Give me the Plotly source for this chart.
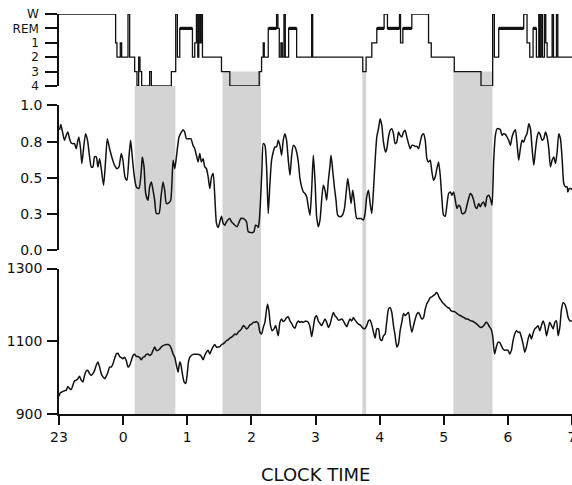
import plotly.graph_objects as go

# ---------------- data ----------------
# time axis: hours elapsed since 23:00
x_tickvals = [0, 1, 2, 3, 4, 5, 6, 7, 8]
x_ticktext = ["23", "0", "1", "2", "3", "4", "5", "6", "7"]

stage_order = ["4", "3", "2", "1", "REM", "W"]

hyp_time = [0.000, 0.883, 0.904, 0.956, 0.977, 1.076, 1.102, 1.180, 1.216, 1.242,
            1.263, 1.289, 1.414, 1.440, 1.752, 1.820, 1.846, 1.883, 2.081, 2.117,
            2.143, 2.164, 2.180, 2.201, 2.216, 2.237, 2.534, 2.664, 3.122, 3.159,
            3.185, 3.201, 3.263, 3.393, 3.414, 3.435, 3.461, 3.482, 3.508, 3.529,
            3.581, 3.706, 3.940, 3.956, 4.737, 4.789, 4.878, 4.956, 5.070, 5.122,
            5.310, 5.326, 5.362, 5.502, 5.763, 5.805, 6.164, 6.581, 6.763, 6.789,
            6.857, 7.247, 7.299, 7.341, 7.393, 7.445, 7.482, 7.497, 7.518, 7.539,
            7.570, 7.591, 7.612, 7.690, 7.711, 7.758, 7.779, 8.000]
hyp_stage = ["W", "1", "2", "1", "2", "W", "2", "3", "4", "2",
             "3", "4", "3", "4", "3", "W", "2", "REM", "2", "1",
             "W", "2", "W", "1", "W", "2", "3", "4", "3", "2",
             "1", "2", "REM", "W", "REM", "2", "1", "2", "W", "2",
             "REM", "2", "W", "2", "3", "2", "1", "REM", "W", "REM",
             "W", "1", "REM", "W", "1", "2", "3", "4", "W", "2",
             "REM", "W", "1", "2", "REM", "2", "W", "2", "W", "2",
             "W", "1", "2", "W", "2", "W", "2", "2"]

rem_bold_start = [1.883, 3.263, 3.581, 4.956, 5.122, 5.362, 6.857, 7.393]
rem_bold_end = [2.081, 3.393, 3.706, 5.070, 5.310, 5.502, 7.247, 7.445]

shade_start = [1.18, 2.55, 4.73, 6.15]
shade_end = [1.815, 3.15, 4.79, 6.76]
shade_top_stage = ["4", "3", "3", "3"]

mid_time = [0.008, 0.029, 0.060, 0.086, 0.112, 0.138, 0.164, 0.190, 0.216, 0.242,
            0.268, 0.294, 0.310, 0.336, 0.357, 0.383, 0.414, 0.445, 0.477, 0.503,
            0.529, 0.555, 0.581, 0.607, 0.633, 0.659, 0.695, 0.727, 0.753, 0.789,
            0.831, 0.867, 0.904, 0.935, 0.971, 0.997, 1.029, 1.060, 1.091, 1.117,
            1.143, 1.169, 1.206, 1.247, 1.284, 1.299, 1.326, 1.352, 1.388, 1.414,
            1.440, 1.466, 1.492, 1.518, 1.560, 1.591, 1.622, 1.648, 1.674, 1.711,
            1.742, 1.779, 1.805, 1.831, 1.872, 1.909, 1.935, 1.961, 1.987, 2.023,
            2.055, 2.091, 2.117, 2.143, 2.169, 2.195, 2.221, 2.247, 2.273, 2.299,
            2.326, 2.352, 2.378, 2.404, 2.430, 2.456, 2.482, 2.508, 2.534, 2.560,
            2.586, 2.612, 2.664, 2.690, 2.716, 2.742, 2.779, 2.810, 2.836, 2.872,
            2.898, 2.924, 2.951, 2.977, 3.013, 3.039, 3.065, 3.091, 3.107, 3.122,
            3.138, 3.164, 3.185, 3.211, 3.237, 3.263, 3.289, 3.315, 3.341, 3.367,
            3.393, 3.419,
            3.445, 3.471, 3.497, 3.523, 3.549, 3.576, 3.602, 3.628, 3.654, 3.680,
            3.706, 3.732, 3.758, 3.784, 3.810, 3.836, 3.862, 3.888, 3.914, 3.940,
            3.966, 3.992, 4.018, 4.044, 4.070, 4.096, 4.122, 4.148, 4.174, 4.201,
            4.227, 4.242, 4.268, 4.294, 4.320, 4.346, 4.383, 4.419, 4.451, 4.477,
            4.503, 4.529, 4.555, 4.581, 4.607, 4.643, 4.680, 4.711, 4.747, 4.773,
            4.799, 4.826, 4.852, 4.878, 4.904, 4.930, 4.956, 4.982, 5.008, 5.034,
            5.060, 5.091, 5.112, 5.138, 5.164, 5.190, 5.216, 5.242, 5.268, 5.294,
            5.320, 5.346, 5.372, 5.398, 5.424, 5.451, 5.477, 5.503, 5.529, 5.555,
            5.581, 5.607, 5.633, 5.659, 5.685, 5.711, 5.737, 5.763, 5.789, 5.815,
            5.841, 5.867, 5.893, 5.919, 5.945, 5.971, 5.997, 6.023, 6.049, 6.076,
            6.102, 6.128, 6.154, 6.180, 6.206, 6.232, 6.258, 6.284, 6.310, 6.336,
            6.362, 6.388, 6.414, 6.440, 6.466, 6.492, 6.518, 6.544, 6.570, 6.596,
            6.622, 6.648, 6.674, 6.701, 6.727, 6.753, 6.779, 6.805, 6.831, 6.857,
            6.883, 6.909, 6.935, 6.961, 6.987, 7.013, 7.039, 7.065, 7.091, 7.117,
            7.143, 7.169, 7.195, 7.221, 7.247, 7.273, 7.299, 7.326, 7.352, 7.378,
            7.404, 7.430, 7.456, 7.482, 7.508, 7.534, 7.560, 7.586, 7.612, 7.638,
            7.664, 7.690, 7.716, 7.742, 7.768, 7.794, 7.820, 7.846, 7.872, 7.898,
            7.924, 7.935, 7.956, 7.977, 8.003]
mid_value = [0.832, 0.869, 0.805, 0.759, 0.793, 0.816, 0.770, 0.740, 0.736, 0.736,
             0.701, 0.759, 0.782, 0.701, 0.598, 0.701, 0.805, 0.759, 0.644, 0.575,
             0.575, 0.644, 0.644, 0.575, 0.632, 0.563, 0.448, 0.621, 0.770, 0.701,
             0.632, 0.586, 0.563, 0.575, 0.667, 0.621, 0.506, 0.483, 0.644, 0.759,
             0.644, 0.529, 0.437, 0.425, 0.552, 0.644, 0.575, 0.391, 0.345, 0.437,
             0.471, 0.414, 0.345, 0.253, 0.253, 0.368, 0.471, 0.414, 0.322, 0.326,
             0.345, 0.621, 0.563, 0.644, 0.782, 0.816, 0.832, 0.816, 0.770, 0.770,
             0.770, 0.724, 0.701, 0.655, 0.609, 0.667, 0.609, 0.632, 0.575, 0.563,
             0.506, 0.425, 0.506, 0.529, 0.368, 0.184, 0.156, 0.195, 0.234, 0.184,
             0.172, 0.195, 0.218, 0.195, 0.184, 0.172, 0.161, 0.195, 0.218, 0.218,
             0.211, 0.195, 0.126, 0.122, 0.120, 0.126, 0.172, 0.166, 0.156, 0.195,
             0.299, 0.552, 0.736, 0.724, 0.575, 0.253, 0.460, 0.621, 0.678, 0.713,
             0.713, 0.759,
             0.724, 0.655, 0.759, 0.805, 0.759, 0.621, 0.517, 0.655, 0.724, 0.713,
             0.678, 0.609, 0.494, 0.437, 0.402, 0.391, 0.368, 0.299, 0.241, 0.414,
             0.655, 0.483, 0.230, 0.161, 0.207, 0.345, 0.448, 0.414, 0.345, 0.483,
             0.586, 0.655, 0.552, 0.437, 0.345, 0.241, 0.230, 0.241, 0.287, 0.391,
             0.494, 0.414, 0.322, 0.414, 0.333, 0.218, 0.218, 0.218, 0.207, 0.253,
             0.368, 0.414, 0.322, 0.253, 0.414, 0.621, 0.782, 0.839, 0.908, 0.862,
             0.747, 0.678, 0.701, 0.782, 0.828, 0.839, 0.805, 0.736, 0.747, 0.816,
             0.793, 0.782, 0.816, 0.828, 0.782, 0.736, 0.701, 0.724, 0.724, 0.717,
             0.717, 0.701, 0.747, 0.793, 0.805, 0.759, 0.632, 0.609, 0.621, 0.540,
             0.483, 0.506, 0.563, 0.609, 0.517, 0.356, 0.241, 0.234, 0.310, 0.391,
             0.402, 0.379, 0.402, 0.345, 0.287, 0.310, 0.299, 0.253, 0.253, 0.264,
             0.310, 0.356, 0.391, 0.379, 0.345, 0.299, 0.287, 0.322, 0.299, 0.322,
             0.333, 0.299, 0.368, 0.379, 0.356, 0.310, 0.621, 0.793, 0.839, 0.839,
             0.832, 0.793, 0.805, 0.800, 0.782, 0.759, 0.724, 0.782, 0.816, 0.832,
             0.736, 0.621, 0.701, 0.759, 0.747, 0.782, 0.805, 0.874, 0.839, 0.701,
             0.586, 0.690, 0.782, 0.816, 0.793, 0.759, 0.770, 0.816, 0.782, 0.701,
             0.575, 0.621, 0.644, 0.598, 0.678, 0.805, 0.770, 0.632, 0.460, 0.437,
             0.437, 0.402, 0.425, 0.425, 0.418]

bot_time = [0.000, 0.018, 0.049, 0.086, 0.112, 0.138, 0.164, 0.190, 0.216, 0.242,
            0.268, 0.294, 0.320, 0.346, 0.372, 0.398, 0.424, 0.451, 0.477, 0.503,
            0.529, 0.555, 0.581, 0.607, 0.633, 0.659, 0.685, 0.711, 0.737, 0.763,
            0.789, 0.815, 0.841, 0.867, 0.893, 0.919, 0.945, 0.971, 0.997, 1.023,
            1.049, 1.076, 1.102, 1.128, 1.154, 1.180, 1.206, 1.232, 1.258, 1.284,
            1.310, 1.336, 1.362, 1.388, 1.414, 1.440, 1.466, 1.492, 1.518, 1.544,
            1.570, 1.596, 1.622, 1.648, 1.674, 1.701, 1.727, 1.753, 1.779, 1.805,
            1.831, 1.857, 1.883, 1.898, 1.924, 1.951, 1.977, 1.997, 2.023, 2.049,
            2.091, 2.143, 2.195, 2.221, 2.247, 2.273, 2.299, 2.326, 2.352, 2.378,
            2.404, 2.430, 2.456, 2.482, 2.508, 2.534, 2.560, 2.586, 2.612, 2.638,
            2.664, 2.690, 2.716, 2.742, 2.768, 2.794, 2.820, 2.846, 2.872, 2.898,
            2.924, 2.951, 2.977, 3.003, 3.029, 3.055, 3.081, 3.107, 3.133, 3.159,
            3.185, 3.211, 3.237, 3.253, 3.273, 3.299, 3.326, 3.352, 3.378, 3.393,
            3.419,
            3.445, 3.471, 3.497, 3.523, 3.549, 3.576, 3.602, 3.628, 3.654, 3.680,
            3.706, 3.732, 3.758, 3.784, 3.810, 3.836, 3.862, 3.888, 3.914, 3.940,
            3.966, 3.992, 4.018, 4.044, 4.070, 4.096, 4.122, 4.148, 4.174, 4.201,
            4.227, 4.253, 4.279, 4.305, 4.331, 4.357, 4.383, 4.409, 4.435, 4.461,
            4.487, 4.513, 4.539, 4.565, 4.591, 4.617, 4.643, 4.669, 4.695, 4.721,
            4.747, 4.773, 4.799, 4.826, 4.852, 4.878, 4.904, 4.930, 4.956, 4.982,
            5.008, 5.034, 5.060, 5.086, 5.112, 5.138, 5.164, 5.190, 5.216, 5.242,
            5.268, 5.294, 5.320, 5.346, 5.372, 5.398, 5.424, 5.451, 5.477, 5.503,
            5.529, 5.555, 5.581, 5.607, 5.633, 5.659, 5.685, 5.711, 5.737, 5.763,
            5.789, 5.815, 5.841, 5.867, 5.883, 5.904, 5.930, 5.956, 5.982, 6.008,
            6.034, 6.060, 6.086, 6.112, 6.138, 6.164, 6.190, 6.216, 6.242, 6.268,
            6.294, 6.320, 6.346, 6.372, 6.398, 6.424, 6.451, 6.477, 6.503, 6.529,
            6.555, 6.581, 6.607, 6.633, 6.659, 6.685, 6.711, 6.737, 6.763, 6.779,
            6.794, 6.820, 6.846, 6.872, 6.898, 6.924, 6.951, 6.977, 7.003, 7.029,
            7.055, 7.081, 7.107, 7.133, 7.159, 7.185, 7.211, 7.237, 7.263, 7.289,
            7.315, 7.341, 7.367, 7.393, 7.419, 7.445, 7.471, 7.497, 7.523, 7.549,
            7.576, 7.602, 7.628, 7.654, 7.680, 7.706, 7.732, 7.758, 7.784, 7.810,
            7.836, 7.862, 7.888, 7.914, 7.940, 7.966, 7.992, 8.008]
bot_value = [949, 958, 961, 964, 965, 975, 970, 967, 979, 991,
             993, 997, 1004, 993, 988, 1006, 1018, 1020, 1011, 1006,
             1011, 1020, 1034, 1043, 1029, 1011, 1002, 997, 1004, 1015,
             1029, 1029, 1038, 1052, 1065, 1067, 1058, 1055, 1052, 1056,
             1047, 1029, 1034, 1047, 1061, 1064, 1058, 1058, 1055, 1049,
             1056, 1058, 1064, 1065, 1061, 1064, 1075, 1084, 1075, 1075,
             1079, 1084, 1088, 1090, 1091, 1091, 1088, 1079, 1065, 1056,
             1034, 1015, 1043, 1038, 1011, 988, 984, 1006, 1047, 1058,
             1064, 1064, 1063, 1058, 1049, 1061, 1070, 1075, 1065, 1076,
             1085, 1091, 1084, 1084, 1085, 1091, 1093, 1097, 1102, 1104,
             1109, 1111, 1115, 1120, 1118, 1125, 1129, 1134, 1143, 1140,
             1134, 1138, 1145, 1147, 1152, 1152, 1154, 1149, 1125, 1120,
             1138, 1152, 1188, 1202, 1184, 1143, 1129, 1134, 1143, 1134,
             1115,
             1152, 1161, 1154, 1158, 1165, 1167, 1156, 1149, 1140, 1136,
             1149, 1156, 1152, 1154, 1152, 1155, 1155, 1152, 1140, 1113,
             1138, 1165, 1170, 1155, 1149, 1143, 1152, 1161, 1152, 1138,
             1147, 1165, 1179, 1170, 1165, 1158, 1159, 1161, 1156, 1147,
             1140, 1152, 1161, 1156, 1165, 1158, 1152, 1147, 1145, 1140,
             1135, 1135, 1143, 1156, 1158, 1145, 1125, 1109, 1134, 1134,
             1106, 1102, 1115, 1120, 1156, 1188, 1193, 1179, 1143, 1115,
             1084, 1093, 1129, 1152, 1176, 1170, 1175, 1179, 1147, 1125,
             1143, 1161, 1175, 1179, 1170, 1161, 1165, 1188, 1204, 1211,
             1220, 1222, 1226, 1229, 1234, 1231, 1220, 1213, 1206, 1202,
             1197, 1193, 1191, 1184, 1182, 1182, 1179, 1175, 1172, 1170,
             1167, 1165, 1161, 1161, 1159, 1156, 1155, 1152, 1149, 1145,
             1140, 1138, 1140, 1145, 1152, 1149, 1140, 1134, 1115, 1084,
             1065, 1084, 1097, 1097, 1088, 1079, 1075, 1076, 1075, 1065,
             1075, 1102, 1120, 1129, 1125, 1125, 1111, 1093, 1070, 1084,
             1106, 1120, 1106, 1122, 1134, 1138, 1143, 1129, 1143, 1156,
             1143, 1115, 1134, 1152, 1143, 1134, 1152, 1156, 1115, 1138,
             1188, 1206, 1202, 1188, 1165, 1156, 1156, 1155]

assert len(hyp_time) == len(hyp_stage)
assert len(mid_time) == len(mid_value)
assert len(bot_time) == len(bot_value)
assert len(rem_bold_start) == len(rem_bold_end)

# ---------------- layout constants ----------------
FONT = "DejaVu Sans"
INK = "#111111"
SHADE = "#d4d4d4"
dom_top = [0.7923, 0.9662]
dom_mid = [0.3961, 0.7452]
dom_bot = [0.0, 0.3514]

stage_num = {s: i for i, s in enumerate(stage_order)}
hyp_y = [stage_num[s] for s in hyp_stage]

bold_x, bold_y = [], []
for a, b in zip(rem_bold_start, rem_bold_end):
    bold_x += [a, b, None]
    bold_y += [stage_num["REM"], stage_num["REM"], None]

fig = go.Figure()

# hypnogram
fig.add_trace(go.Scatter(x=hyp_time, y=hyp_y, mode="lines", line_shape="hv",
                         line=dict(color=INK, width=1.3), xaxis="x", yaxis="y3",
                         hoverinfo="skip", cliponaxis=False))
fig.add_trace(go.Scatter(x=bold_x, y=bold_y, mode="lines",
                         line=dict(color=INK, width=3.2), xaxis="x", yaxis="y3",
                         hoverinfo="skip", cliponaxis=False))
# middle series
fig.add_trace(go.Scatter(x=mid_time, y=mid_value, mode="lines", line_shape="spline",
                         line=dict(color=INK, width=1.5, smoothing=0.6),
                         xaxis="x", yaxis="y2", hoverinfo="skip"))
# bottom series
fig.add_trace(go.Scatter(x=bot_time, y=bot_value, mode="lines", line_shape="spline",
                         line=dict(color=INK, width=1.5, smoothing=0.6),
                         xaxis="x", yaxis="y", hoverinfo="skip"))

# shaded periods: from the x axis up to the hypnogram stage level
shapes = []
for a, b, st in zip(shade_start, shade_end, shade_top_stage):
    frac = stage_num[st] / (len(stage_order) - 1)
    top = dom_top[0] + frac * (dom_top[1] - dom_top[0])
    shapes.append(dict(type="rect", xref="x", yref="paper", x0=a, x1=b, y0=0, y1=top,
                       fillcolor=SHADE, line=dict(width=0), layer="below"))

yax_common = dict(showline=True, linecolor=INK, linewidth=1.5, ticks="outside",
                  ticklen=10, tickwidth=1.5, tickcolor=INK, showgrid=False,
                  zeroline=False, anchor="x", automargin=False, ticklabelstandoff=2,
                  tickfont=dict(family=FONT, size=14, color=INK))

fig.update_layout(
    width=572, height=485,
    margin=dict(l=59, r=0, t=0, b=71),
    paper_bgcolor="white", plot_bgcolor="white",
    showlegend=False,
    font=dict(family=FONT, color=INK),
    shapes=shapes,
    xaxis=dict(range=[0, 8], tickvals=x_tickvals, ticktext=x_ticktext,
               showline=True, linecolor=INK, linewidth=1.5, ticks="outside",
               ticklen=9, tickwidth=1.5, tickcolor=INK, showgrid=False,
               zeroline=False, anchor="y", automargin=False,
               ticklabeloverflow="allow",
               tickfont=dict(family=FONT, size=14, color=INK)),
    yaxis=dict(domain=dom_bot, range=[900, 1300], tickvals=[900, 1100, 1300],
               **yax_common),
    yaxis2=dict(domain=dom_mid, range=[0, 1], tickvals=[0, 0.25, 0.5, 0.75, 1.0],
                ticktext=["0.0", "0.3", "0.5", "0.8", "1.0"], **yax_common),
    yaxis3=dict(domain=dom_top, range=[0, 5], tickvals=list(range(6)),
                ticktext=stage_order, **{**yax_common, "ticklen": 12,
                                         "ticklabelstandoff": 4,
                                         "tickfont": dict(family=FONT, size=12, color=INK)}),
    annotations=[dict(text="CLOCK TIME", x=0.5, xref="paper", y=-0.145, yref="paper",
                      xanchor="center", yanchor="middle", showarrow=False,
                      font=dict(family=FONT, size=18, color=INK))],
)

fig.write_html("out.html")
